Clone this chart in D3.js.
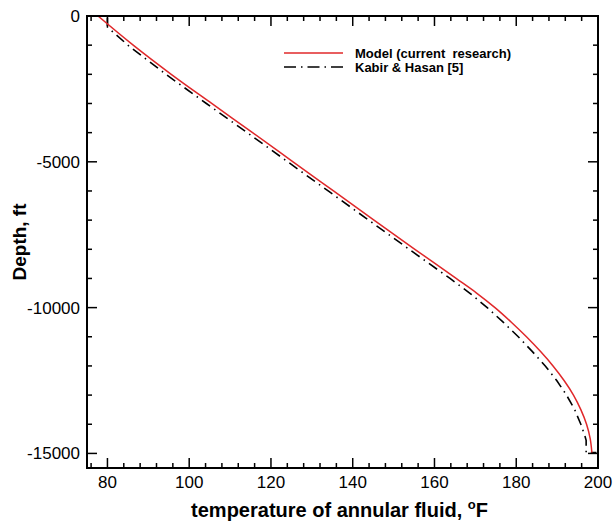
<!DOCTYPE html>
<html>
<head>
<meta charset="utf-8">
<script src="https://cdn.jsdelivr.net/npm/d3@7"></script>
<style>
  html, body { margin: 0; padding: 0; background: #fff; }
  svg { display: block; font-family: Arial, "Liberation Sans", sans-serif; }
</style>
</head>
<body>
<div id="chart"></div>
<script>
// Model (current research) - red curve
const modelTemp  = [77.7, 86.3, 95.6, 105.5, 115.5, 125.4, 135.3, 145.2, 155.2, 165.3, 170.3, 174.8, 178.8, 182.5, 185.9, 189.0, 191.7, 194.0, 195.8, 197.2, 198.1, 198.5];
const modelDepth = [0, -1000, -2000, -3000, -4000, -5000, -6000, -7000, -8000, -9000, -9500, -10000, -10500, -11000, -11500, -12000, -12500, -13000, -13500, -14000, -14500, -14970];

// Kabir & Hasan [5] - black dash-dot curve
const kabirTemp  = [80.0, 80.0, 85.0, 94.3, 104.2, 114.2, 124.1, 134.0, 143.9, 153.8, 163.8, 168.6, 172.9, 176.8, 180.5, 183.9, 187.1, 189.9, 192.3, 194.3, 195.8, 196.8, 197.1, 197.1, 199.6];
const kabirDepth = [-60, -380, -1000, -2000, -3000, -4000, -5000, -6000, -7000, -8000, -9000, -9500, -10000, -10500, -11000, -11500, -12000, -12500, -13000, -13500, -14000, -14400, -14550, -14970, -14970];

const xTicks = [80, 100, 120, 140, 160, 180, 200];
const yTicks = [0, -5000, -10000, -15000];

const width = 614, height = 524;
const margin = { left: 87, right: 16, top: 16, bottom: 56 };

const svg = d3.select('#chart').append('svg')
  .attr('width', width)
  .attr('height', height);

const x = d3.scaleLinear().domain([75, 200]).range([margin.left, width - margin.right]);
const y = d3.scaleLinear().domain([-15500, 0]).range([height - margin.bottom, margin.top]);

const x0 = x.range()[0], x1 = x.range()[1];
const y0 = y.range()[1], y1 = y.range()[0];

svg.append('defs').append('clipPath').attr('id', 'plot-clip')
  .append('rect')
  .attr('x', x0).attr('y', y0)
  .attr('width', x1 - x0).attr('height', y1 - y0);

// minor + major ticks, all pointing inward
const xMinor = d3.range(76, 200, 4).filter(v => v % 20 !== 0);
const yMinor = d3.range(-15000, 0, 1000).filter(v => v % 5000 !== 0);

const ticks = svg.append('g')
  .attr('stroke', '#000')
  .attr('stroke-width', 1.5);

function tickLines(values, scale, isX, len) {
  values.forEach(v => {
    const p = scale(v);
    if (isX) {
      ticks.append('line').attr('x1', p).attr('x2', p).attr('y1', y1).attr('y2', y1 - len);
      ticks.append('line').attr('x1', p).attr('x2', p).attr('y1', y0).attr('y2', y0 + len);
    } else {
      ticks.append('line').attr('y1', p).attr('y2', p).attr('x1', x0).attr('x2', x0 + len);
      ticks.append('line').attr('y1', p).attr('y2', p).attr('x1', x1).attr('x2', x1 - len);
    }
  });
}
tickLines(xMinor, x, true, 5);
tickLines(xTicks, x, true, 10);
tickLines(yMinor, y, false, 5);
tickLines(yTicks, y, false, 10);

// data lines
const plot = svg.append('g').attr('clip-path', 'url(#plot-clip)');

const model = modelTemp.map((t, i) => [t, modelDepth[i]]);
const kabir = kabirTemp.map((t, i) => [t, kabirDepth[i]]);

plot.append('path')
  .datum(kabir)
  .attr('fill', 'none')
  .attr('stroke', '#000')
  .attr('stroke-width', 1.6)
  .attr('stroke-dasharray', '10,5,1.5,5')
  .attr('d', d3.line().x(d => x(d[0])).y(d => y(d[1])));

plot.append('path')
  .datum(model)
  .attr('fill', 'none')
  .attr('stroke', '#e0282a')
  .attr('stroke-width', 1.5)
  .attr('d', d3.line().x(d => x(d[0])).y(d => y(d[1])).curve(d3.curveMonotoneY));

// frame
svg.append('rect')
  .attr('x', x0).attr('y', y0)
  .attr('width', x1 - x0).attr('height', y1 - y0)
  .attr('fill', 'none')
  .attr('stroke', '#000')
  .attr('stroke-width', 2);

// tick labels
svg.append('g').selectAll('text')
  .data(xTicks)
  .join('text')
  .attr('x', d => x(d))
  .attr('y', y1 + 20)
  .attr('text-anchor', 'middle')
  .attr('font-size', 17)
  .text(d => d);

svg.append('g').selectAll('text')
  .data(yTicks)
  .join('text')
  .attr('x', x0 - 7)
  .attr('y', d => y(d) + 6)
  .attr('text-anchor', 'end')
  .attr('font-size', 17)
  .text(d => d);

// axis titles
const xTitle = svg.append('text')
  .attr('x', (x0 + x1) / 2 - 3)
  .attr('y', 517)
  .attr('text-anchor', 'middle')
  .attr('font-size', 20)
  .attr('font-weight', 'bold')
  .text('temperature of annular fluid, ');
xTitle.append('tspan').attr('font-size', 13).attr('dy', -8).text('o');
xTitle.append('tspan').attr('dy', 8).text('F');

svg.append('text')
  .attr('transform', `translate(26, ${(y0 + y1) / 2}) rotate(-90)`)
  .attr('text-anchor', 'middle')
  .attr('font-size', 19)
  .attr('font-weight', 'bold')
  .text('Depth, ft');

// legend
const legend = svg.append('g').attr('font-size', 13).attr('font-weight', 'bold');
legend.append('line')
  .attr('x1', 284).attr('x2', 343).attr('y1', 53).attr('y2', 53)
  .attr('stroke', '#e0282a').attr('stroke-width', 1.5);
legend.append('text').attr('x', 355).attr('y', 57.5)
  .style('white-space', 'pre').text('Model (current  research)');
legend.append('line')
  .attr('x1', 284).attr('x2', 343).attr('y1', 67).attr('y2', 67)
  .attr('stroke', '#000').attr('stroke-width', 1.6)
  .attr('stroke-dasharray', '12,5,1.5,5');
legend.append('text').attr('x', 355).attr('y', 71.5).text('Kabir & Hasan [5]');
</script>
</body>
</html>
